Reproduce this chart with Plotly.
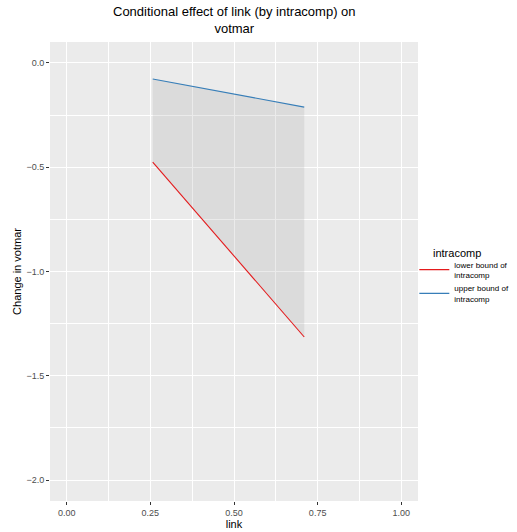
import plotly.graph_objects as go

link = [0.257, 0.71]
lower = [-0.476, -1.314]
upper = [-0.077, -0.212]
series_names = ["lower bound of<br>intracomp", "upper bound of<br>intracomp"]
x_ticks = [0.0, 0.25, 0.5, 0.75, 1.0]
x_ticklabels = ["0.00", "0.25", "0.50", "0.75", "1.00"]
y_ticks = [0.0, -0.5, -1.0, -1.5, -2.0]
y_ticklabels = ["0.0", "\u22120.5", "\u22121.0", "\u22121.5", "\u22122.0"]

fig = go.Figure()
# ribbon
fig.add_trace(go.Scatter(x=link, y=lower, mode="lines", line=dict(width=0),
                         showlegend=False, hoverinfo="skip"))
fig.add_trace(go.Scatter(x=link, y=upper, mode="lines", line=dict(width=0),
                         fill="tonexty", fillcolor="rgba(153,153,153,0.2)",
                         showlegend=False, hoverinfo="skip"))
fig.add_trace(go.Scatter(x=link, y=lower, mode="lines", name=series_names[0],
                         line=dict(color="#E41A1C", width=1.1)))
fig.add_trace(go.Scatter(x=link, y=upper, mode="lines", name=series_names[1],
                         line=dict(color="#377EB8", width=1.1)))

axis_common = dict(
    showgrid=True, gridcolor="white", gridwidth=1.1, zeroline=False,
    showline=False, ticks="outside", ticklen=3, tickcolor="#333333", tickwidth=1,
    tickfont=dict(family="Liberation Sans, Arial", size=9, color="#4D4D4D"),
)

fig.update_layout(
    width=517, height=532,
    margin=dict(l=50, r=99, t=42, b=31, autoexpand=False),
    paper_bgcolor="white", plot_bgcolor="#EBEBEB",
    font=dict(family="Liberation Sans, Arial", color="black"),
    xaxis=dict(range=[-0.05, 1.05], tickvals=x_ticks, ticktext=x_ticklabels,
               title=dict(text="link", font=dict(size=11), standoff=0),
               minor=dict(tickvals=[0.125, 0.375, 0.625, 0.875], showgrid=True,
                          gridcolor="white", gridwidth=0.5, ticks=""),
               **axis_common),
    yaxis=dict(range=[-2.1, 0.1], tickvals=y_ticks, ticktext=y_ticklabels,
               title=dict(text="Change in votmar", font=dict(size=11), standoff=2),
               minor=dict(tickvals=[-0.25, -0.75, -1.25, -1.75], showgrid=True,
                          gridcolor="white", gridwidth=0.5, ticks=""),
               **axis_common),
    legend=dict(x=0.99, xanchor="left", y=0.541, yanchor="top",
                font=dict(size=8), tracegroupgap=0, itemwidth=30,
                traceorder="normal", bgcolor="rgba(0,0,0,0)"),
    annotations=[
        dict(text="Conditional effect of link (by intracomp) on<br>votmar",
             xref="paper", yref="paper", x=0.5, y=1.008,
             xanchor="center", yanchor="bottom", showarrow=False,
             font=dict(size=13, color="black")),
        dict(text="intracomp", xref="paper", yref="paper",
             x=(431 - 50) / 368, y=(501 - 253) / 459,
             xanchor="left", yanchor="middle", showarrow=False,
             font=dict(size=11, color="black")),
    ],
)

fig.write_html("out.html")
